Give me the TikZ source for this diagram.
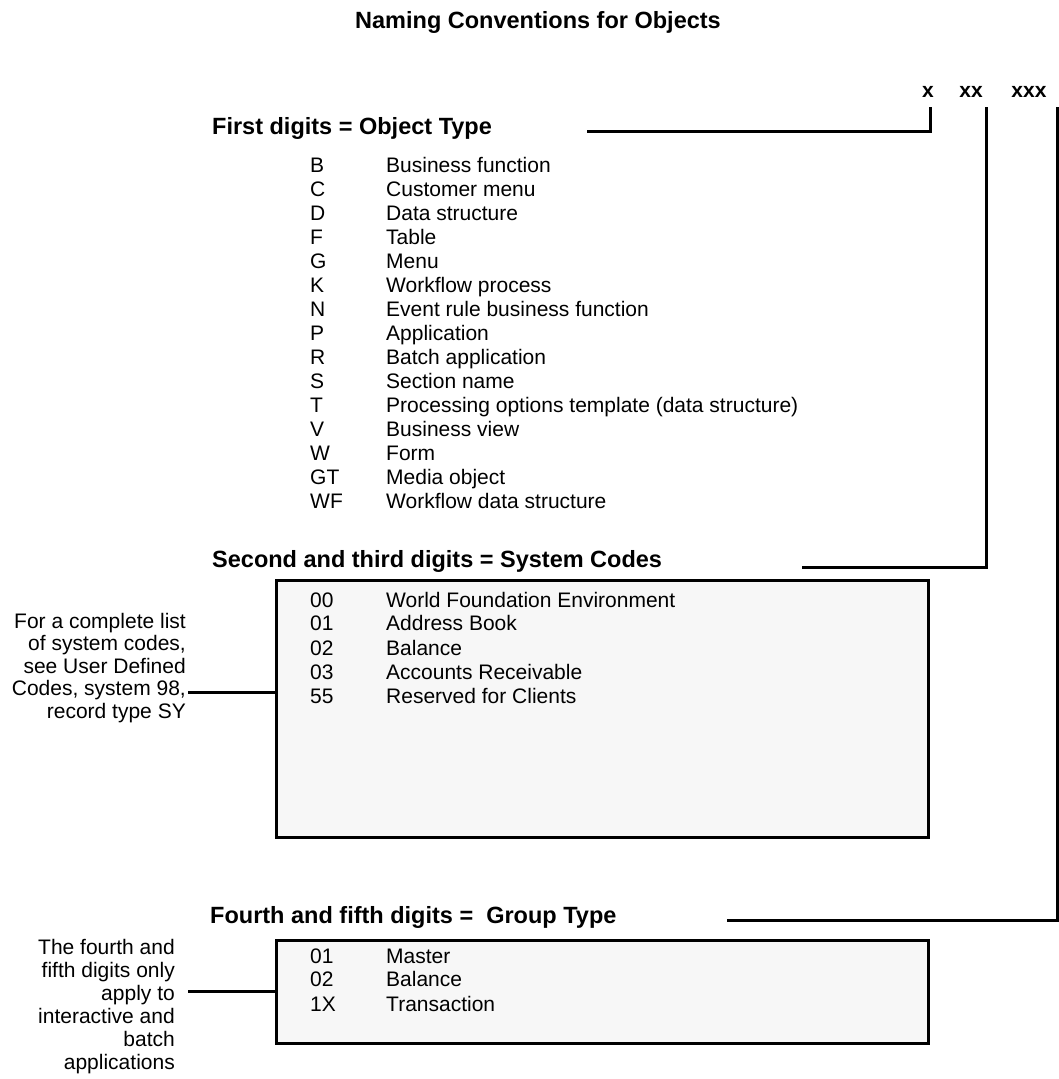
\documentclass[tikz,border=0pt]{standalone}
\usepackage{fontspec}
\setmainfont{Liberation Sans}
\definecolor{boxgray}{HTML}{F7F7F7}
\begin{document}
\begin{tikzpicture}[x=1pt,y=-1pt,
  head/.style={font=\fontsize{23.5}{27}\selectfont\bfseries, inner sep=0pt, anchor=base west},
  xlab/.style={font=\fontsize{21}{25}\selectfont\bfseries, inner sep=0pt, anchor=base},
  item/.style={font=\fontsize{21}{24}\selectfont, inner sep=0pt, anchor=base west},
  panel/.style={draw, line width=3pt, fill=boxgray, anchor=north west, inner sep=0pt},
  wire/.style={line width=3pt},
  note/.style={font=\fontsize{21}{22.5}\selectfont, align=right, inner sep=0pt, anchor=north east}
]
\useasboundingbox (0,0) rectangle (1058,1079);

% title and code pattern
\node[head, anchor=base] (title) at (538,28) {Naming Conventions for Objects};
\node[xlab] (lx1) at (928,97) {x};
\node[xlab] (lx2) at (971,97) {xx};
\node[xlab] (lx3) at (1029,97) {xxx};

% headings
\node[head] (h1) at (212,134) {First digits = Object Type};
\node[head] (h2) at (212,567) {Second and third digits = System Codes};
\node[head] (h3) at (210,923) {Fourth and fifth digits = \ Group Type};

% object types list
\foreach \c/\d [count=\i from 0] in {B/Business function, C/Customer menu, D/Data structure,
  F/Table, G/Menu, K/Workflow process, N/Event rule business function, P/Application,
  R/Batch application, S/Section name, T/Processing options template (data structure),
  V/Business view, W/Form, GT/Media object, WF/Workflow data structure}{
  \node[item] (oc\i) at (310,172+24.07*\i) {\c};
  \node[item] (od\i) at (386,172+24.07*\i) {\d};
}

% boxes
\node[panel, minimum width=652pt, minimum height=257pt] (box1) at (275,579) {};
\node[panel, minimum width=652pt, minimum height=103pt] (box2) at (275,939) {};

\foreach \c/\d/\y [count=\i] in {00/World Foundation Environment/607, 01/Address Book/630,
  02/Balance/655, 03/Accounts Receivable/679, 55/Reserved for Clients/703}{
  \node[item] (sc\i) at (310,\y) {\c};
  \node[item] (sd\i) at (386,\y) {\d};
}
\foreach \c/\d/\y [count=\i] in {01/Master/963, 02/Balance/986, 1X/Transaction/1011}{
  \node[item] (gc\i) at (310,\y) {\c};
  \node[item] (gd\i) at (386,\y) {\d};
}

% side notes
\node[note] (n1) at (186,613) {For a complete list\\of system codes,\\see User Defined\\Codes, system 98,\\record type SY};
\node[note, font=\fontsize{21}{23}\selectfont] (n2) at (175,939) {The fourth and\\fifth digits only\\apply to\\interactive and\\batch\\applications};

% connectors from code pattern to headings
\coordinate (s1) at (587,131);
\coordinate (t1) at (930,107);
\coordinate (s2) at (802,567);
\coordinate (t2) at (986,107);
\coordinate (s3) at (727,920);
\coordinate (t3) at (1057,107);
\draw[wire] (s1) -| (t1);
\draw[wire] (s2) -| (t2);
\draw[wire] (s3) -| (t3);

% connectors from notes to boxes
\coordinate (n1e) at (188,692);
\coordinate (n2e) at (188,991);
\draw[wire] (n1e) -- (n1e -| box1.west);
\draw[wire] (n2e) -- (n2e -| box2.west);
\end{tikzpicture}
\end{document}
